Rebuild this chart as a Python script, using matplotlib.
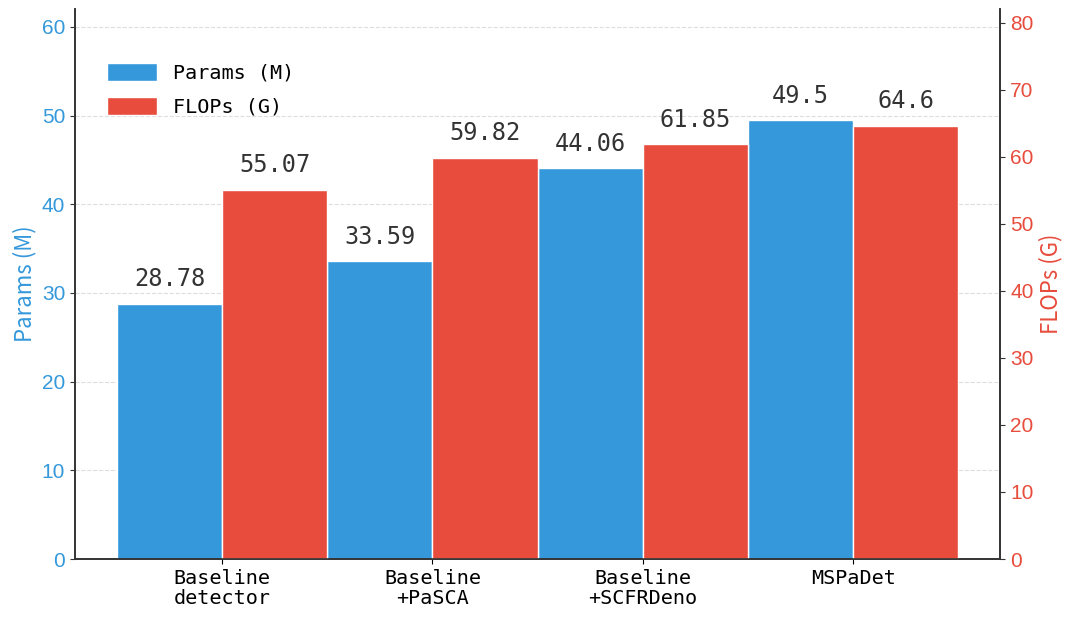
import matplotlib.pyplot as plt
import numpy as np

categories = ["Baseline\ndetector", "Baseline\n+PaSCA", "Baseline\n+SCFRDeno", "MSPaDet"]
params = [28.78, 33.59, 44.06, 49.5]
flops = [55.07, 59.82, 61.85, 64.6]
param_labels = ["28.78", "33.59", "44.06", "49.5"]
flop_labels = ["55.07", "59.82", "61.85", "64.6"]

blue = "#3498db"
red = "#e74c3c"
mono = "DejaVu Sans Mono"

fig, ax1 = plt.subplots(figsize=(10.71, 6.17), dpi=100)
fig.subplots_adjust(left=0.070, right=0.934, bottom=0.094, top=0.985)
ax2 = ax1.twinx()

x = np.arange(len(categories))
w = 0.5

b1 = ax1.bar(x - w / 2, params, w, color=blue, edgecolor="white", linewidth=1, label="Params (M)")
b2 = ax2.bar(x + w / 2, flops, w, color=red, edgecolor="white", linewidth=1, label="FLOPs (G)")

# valores em cima das barras
for rect, lab in zip(b1, param_labels):
    ax1.annotate(lab, (rect.get_x() + rect.get_width() / 2, rect.get_height()),
                 xytext=(0, 9), textcoords="offset points", ha="center", va="bottom",
                 fontsize=17, color="#333333", family=mono)
for rect, lab in zip(b2, flop_labels):
    ax2.annotate(lab, (rect.get_x() + rect.get_width() / 2, rect.get_height()),
                 xytext=(0, 9), textcoords="offset points", ha="center", va="bottom",
                 fontsize=17, color="#333333", family=mono)

ax1.set_xlim(-0.7, 3.7)
ax1.set_ylim(0, 62)
ax2.set_ylim(0, 82)
ax1.set_yticks(np.arange(0, 61, 10))
ax2.set_yticks(np.arange(0, 81, 10))

ax1.set_xticks(x)
ax1.set_xticklabels(categories, family=mono, fontsize=14.5)
for lab in ax1.get_xticklabels():
    lab.set_linespacing(1.1)

ax1.tick_params(axis="y", colors=blue, labelsize=15)
ax2.tick_params(axis="y", colors=red, labelsize=15)
for lab in ax1.get_yticklabels() + ax2.get_yticklabels():
    lab.set_family("Liberation Sans")
ax1.tick_params(axis="y", color="#333333")
ax2.tick_params(axis="y", color="#333333")

ax1.set_ylabel("Params (M)", color=blue, fontsize=16, family="Noto Sans CJK SC", fontweight="medium")
ax2.set_ylabel("FLOPs (G)", color=red, fontsize=16, family="Noto Sans CJK SC", fontweight="medium")

ax1.grid(axis="y", linestyle="--", color="#dddddd", linewidth=0.8)
ax1.set_axisbelow(True)

for a in (ax1, ax2):
    a.spines["top"].set_visible(False)
    for s in ("left", "right", "bottom"):
        a.spines[s].set_color("#333333")
        a.spines[s].set_linewidth(1.2)

h = [b1, b2]
ax1.legend(h, ["Params (M)", "FLOPs (G)"], loc="upper left", frameon=False,
           bbox_to_anchor=(0.0146, 0.936), prop={"family": mono, "size": 14.5},
           handlelength=2.5, handleheight=1.0, labelspacing=0.7, handletextpad=0.8)

plt.savefig("out.png", dpi=100)
